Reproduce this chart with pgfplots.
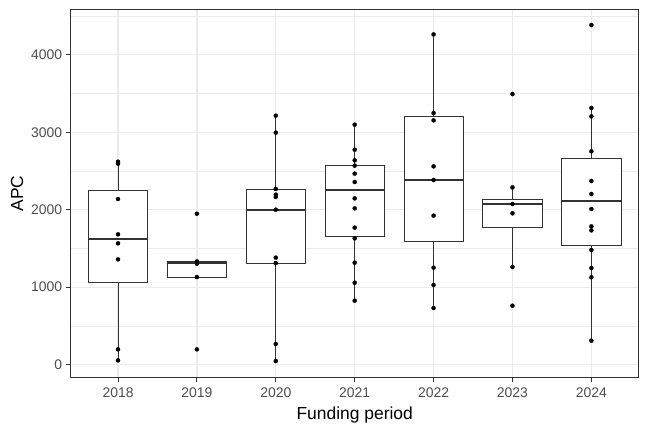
\documentclass[border=0pt]{standalone}
\usepackage{pgfplots}
\pgfplotsset{compat=1.18}
\usepackage{fontspec}
\setmainfont{Liberation Sans}
\definecolor{gridc}{HTML}{EBEBEB}
\definecolor{gray20}{HTML}{333333}
\definecolor{gray30}{HTML}{4D4D4D}

\begin{document}
\begin{tikzpicture}
\useasboundingbox (0,0) rectangle (648bp,432bp);
\begin{axis}[
  at={(70.7bp,54.3bp)}, anchor=south west,
  scale only axis, width=568bp, height=368.4bp,
  xmin=0.4, xmax=7.6, ymin=-168, ymax=4586,
  xtick={1,2,3,4,5,6,7},
  xticklabels={2018,2019,2020,2021,2022,2023,2024},
  ytick={0,1000,2000,3000,4000},
  minor ytick={500,1500,2500,3500,4500},
  grid=both,
  major grid style={gridc, line width=1.3bp},
  minor grid style={gridc, line width=0.65bp},
  axis line style={gray20, line width=0.9bp},
  tick style={gray20, line width=0.9bp},
  tick align=outside, major tick length=4.4bp, minor tick length=0pt,
  xtick pos=bottom, ytick pos=left,
  ticklabel style={font=\fontsize{14}{16}\selectfont, text=gray30, inner sep=0pt},
  xticklabel style={yshift=-5bp},
  yticklabel style={xshift=-4bp},
  /pgf/number format/assume math mode=true,
  /pgf/number format/1000 sep={},
  xlabel={Funding period}, ylabel={APC},
  label style={font=\fontsize{17.5}{20}\selectfont},
  xlabel style={at={(axis description cs:0.5,-0.1012)}, anchor=center},
  ylabel style={at={(axis description cs:-0.0945,0.5)}, anchor=center},
  unbounded coords=jump,
]
% whiskers (lower whisker to Q1, Q3 to upper whisker)
\addplot[gray20, line width=0.9bp, mark=none] coordinates {
  (1,56)(1,1067) (1,nan) (1,2249)(1,2619) (1,nan)
  (3,47)(3,1307) (3,nan) (3,2262)(3,3213) (3,nan)
  (4,826)(4,1660) (4,nan) (4,2568)(4,3097) (4,nan)
  (5,731)(5,1591) (5,nan) (5,3200)(5,4262) (5,nan)
  (6,1260)(6,1776) (6,nan) (6,2129)(6,2288) (6,nan)
  (7,310)(7,1544) (7,nan) (7,2658)(7,3312)
};
% boxes: lower quartile to upper quartile, width 0.75
\addplot[draw=gray20, fill=white, line width=0.9bp, mark=none] coordinates {(0.625,1067)(1.375,1067)(1.375,2249)(0.625,2249)} -- cycle;
\addplot[draw=gray20, fill=white, line width=0.9bp, mark=none] coordinates {(1.625,1131)(2.375,1131)(2.375,1333)(1.625,1333)} -- cycle;
\addplot[draw=gray20, fill=white, line width=0.9bp, mark=none] coordinates {(2.625,1307)(3.375,1307)(3.375,2262)(2.625,2262)} -- cycle;
\addplot[draw=gray20, fill=white, line width=0.9bp, mark=none] coordinates {(3.625,1660)(4.375,1660)(4.375,2568)(3.625,2568)} -- cycle;
\addplot[draw=gray20, fill=white, line width=0.9bp, mark=none] coordinates {(4.625,1591)(5.375,1591)(5.375,3200)(4.625,3200)} -- cycle;
\addplot[draw=gray20, fill=white, line width=0.9bp, mark=none] coordinates {(5.625,1776)(6.375,1776)(6.375,2129)(5.625,2129)} -- cycle;
\addplot[draw=gray20, fill=white, line width=0.9bp, mark=none] coordinates {(6.625,1544)(7.375,1544)(7.375,2658)(6.625,2658)} -- cycle;
% medians
\addplot[gray20, line width=1.8bp, mark=none] coordinates {
  (0.625,1626)(1.375,1626) (1,nan)
  (1.625,1307)(2.375,1307) (2,nan)
  (2.625,2000)(3.375,2000) (3,nan)
  (3.625,2254)(4.375,2254) (4,nan)
  (4.625,2387)(5.375,2387) (5,nan)
  (5.625,2073)(6.375,2073) (6,nan)
  (6.625,2108)(7.375,2108)
};
% individual points
\addplot[only marks, mark=*, mark size=2.1bp, black, mark options={line width=0.2bp}] coordinates {
  (1,2619)(1,2594)(1,2138)(1,1682)(1,1566)(1,1359)(1,198)(1,56)
  (2,1948)(2,1333)(2,1303)(2,1131)(2,198)
  (3,3213)(3,2994)(3,2267)(3,2194)(3,2164)(3,2000)(3,1381)(3,1312)(3,267)(3,47)
  (4,3097)(4,2774)(4,2637)(4,2568)(4,2465)(4,2357)(4,2146)(4,2017)(4,1768)(4,1630)(4,1316)(4,1058)(4,826)
  (5,4262)(5,3247)(5,3153)(5,2559)(5,2383)(5,1923)(5,1252)(5,1028)(5,731)
  (6,3492)(6,2288)(6,2073)(6,1953)(6,1260)(6,761)
  (7,4383)(7,3312)(7,3204)(7,2753)(7,2370)(7,2202)(7,2009)(7,1785)(7,1733)(7,1480)(7,1247)(7,1127)(7,310)
};
\end{axis}
\end{tikzpicture}
\end{document}
